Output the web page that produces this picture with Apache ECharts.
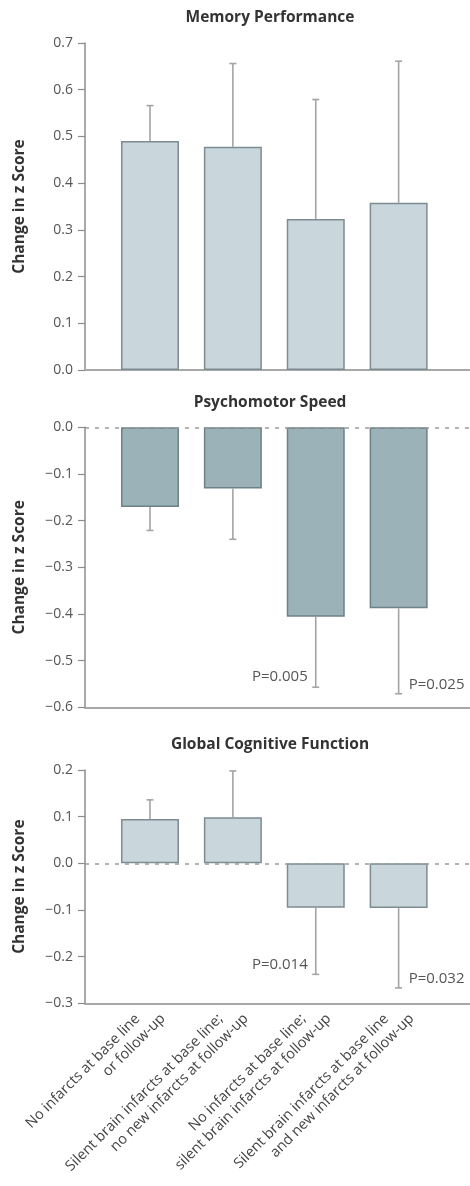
<!DOCTYPE html>
<html>
<head>
<meta charset="utf-8">
<script src="https://cdn.jsdelivr.net/npm/echarts@6/dist/echarts.min.js"></script>
<style>
html,body{margin:0;padding:0;background:#fff;}
#c{width:470px;height:1186px;}
</style>
</head>
<body>
<div id="c"></div>
<script>
// ---- data ----
const categoryLines = [
  ['No infarcts at base line', 'or follow-up'],
  ['Silent brain infarcts at base line;', 'no new infarcts at follow-up'],
  ['No infarcts at base line;', 'silent brain infarcts at follow-up'],
  ['Silent brain infarcts at base line', 'and new infarcts at follow-up']
];
const panelTitles = ['Memory Performance', 'Psychomotor Speed', 'Global Cognitive Function'];
const memoryMeans = [0.49, 0.478, 0.323, 0.358];
const memoryErrEnd = [0.566, 0.656, 0.579, 0.661];
const speedMeans = [-0.171, -0.131, -0.406, -0.388];
const speedErrEnd = [-0.221, -0.240, -0.557, -0.571];
const globalMeans = [0.095, 0.099, -0.095, -0.096];
const globalErrEnd = [0.136, 0.198, -0.238, -0.267];
const memoryP = ['', '', '', ''];
const speedP = ['', '', 'P=0.005', 'P=0.025'];
const globalP = ['', '', 'P=0.014', 'P=0.032'];
const yRanges = [[0, 0.7], [-0.6, 0], [-0.3, 0.2]];

const FONT = 'Open Sans';
const chart = echarts.init(document.getElementById('c'), null, {renderer: 'canvas'});

function fmtY(v) {
  const s = Math.abs(v).toFixed(1);
  return (v < -1e-9 ? '\u2212' : '') + s;
}

function errSeries(idx, means, ends, pLabels) {
  return {
    type: 'custom',
    xAxisIndex: idx, yAxisIndex: idx,
    z: 3,
    silent: true,
    data: means.map((v, i) => [i + 1, v, ends[i]]),
    encode: {x: 0, y: [1, 2]},
    renderItem: function (params, api) {
      const x = api.value(0);
      const a = api.coord([x, api.value(1)]);
      const b = api.coord([x, api.value(2)]);
      const st = {stroke: '#a4a4a4', lineWidth: 1.6};
      const children = [
        {type: 'line', shape: {x1: a[0], y1: a[1], x2: b[0], y2: b[1]}, style: st},
        {type: 'line', shape: {x1: b[0] - 3.5, y1: b[1], x2: b[0] + 3.5, y2: b[1]}, style: st}
      ];
      const lab = pLabels[params.dataIndex];
      if (lab) {
        const right = params.dataIndex === means.length - 1;
        children.push({
          type: 'text',
          style: {
            text: lab,
            x: right ? b[0] + 10 : b[0] - 8,
            y: b[1] - (right ? 9 : 10),
            align: right ? 'left' : 'right',
            verticalAlign: 'middle',
            fill: '#555',
            font: '15px "' + FONT + '"'
          }
        });
      }
      return {type: 'group', children: children};
    }
  };
}

function barSeries(idx, means, fill, border, zeroLine) {
  const s = {
    type: 'bar',
    xAxisIndex: idx, yAxisIndex: idx,
    barWidth: 58,
    silent: true,
    data: means.map((v, i) => [i + 1, v]),
    itemStyle: {color: fill, borderColor: border, borderWidth: 1.5}
  };
  if (zeroLine) {
    s.markLine = {
      silent: true, symbol: 'none', animation: false,
      label: {show: false},
      lineStyle: {color: '#9a9a9a', type: [4, 6], width: 1.5},
      data: [{yAxis: 0}]
    };
  }
  return s;
}

const grids = [
  {left: 85, right: 0, top: 43, height: 327, outerBoundsMode: 'none', containLabel: false},
  {left: 85, right: 0, top: 427.3, height: 280, outerBoundsMode: 'none', containLabel: false},
  {left: 85, right: 0, top: 770, height: 233.3, outerBoundsMode: 'none', containLabel: false}
];

const xAxes = grids.map((g, i) => ({
  type: 'value', gridIndex: i, min: 0.216, max: 4.861,
  splitLine: {show: false},
  axisTick: {show: false},
  axisLine: {onZero: false, lineStyle: {color: '#a8a8a8', width: 2}},
  axisLabel: i < 2 ? {show: false} : {
    show: true,
    customValues: [1, 2, 3, 4],
    rotate: 45,
    margin: 0,
    padding: [19, 0, 0, 0],
    color: '#444',
    fontFamily: FONT,
    fontSize: 14.5,
    lineHeight: 17.7,
    formatter: function (v) {
      const L = categoryLines[Math.round(v) - 1];
      return '{a|' + L[0] + '}\n{b|' + L[1] + '}';
    },
    rich: {
      a: {fontFamily: FONT, fontSize: 14.5, color: '#444', lineHeight: 17.7, padding: [0, 18, 0, 0]},
      b: {fontFamily: FONT, fontSize: 14.5, color: '#444', lineHeight: 17.7}
    }
  }
}));

const yAxes = grids.map((g, i) => ({
  type: 'value', gridIndex: i,
  min: yRanges[i][0], max: yRanges[i][1], interval: 0.1,
  name: 'Change in z Score',
  nameLocation: 'middle',
  nameGap: 57,
  nameTextStyle: {fontFamily: FONT, fontWeight: 'bold', fontSize: 15.5, color: '#333'},
  splitLine: {show: false},
  axisLine: {show: true, onZero: false, lineStyle: {color: '#8c8c8c', width: 1.5}},
  axisTick: {show: true, length: 7, lineStyle: {color: '#8c8c8c', width: 1.2}},
  axisLabel: {color: '#555', fontFamily: FONT, fontSize: 14, margin: 12, formatter: fmtY}
}));

const titleTops = [10, 395, 737];
const titles = panelTitles.map((t, i) => ({
  text: t, left: 270, top: titleTops[i], textAlign: 'center', padding: 0,
  textStyle: {fontFamily: FONT, fontWeight: 'bold', fontSize: 15.5, color: '#333'}
}));

chart.setOption({
  animation: false,
  backgroundColor: '#fff',
  title: titles,
  grid: grids,
  xAxis: xAxes,
  yAxis: yAxes,
  series: [
    barSeries(0, memoryMeans, '#c9d7dc', '#7c8c91', false),
    errSeries(0, memoryMeans, memoryErrEnd, memoryP),
    barSeries(1, speedMeans, '#9bb2b8', '#6d8186', true),
    errSeries(1, speedMeans, speedErrEnd, speedP),
    barSeries(2, globalMeans, '#c9d7dc', '#7c8c91', true),
    errSeries(2, globalMeans, globalErrEnd, globalP)
  ]
});
</script>
</body>
</html>
